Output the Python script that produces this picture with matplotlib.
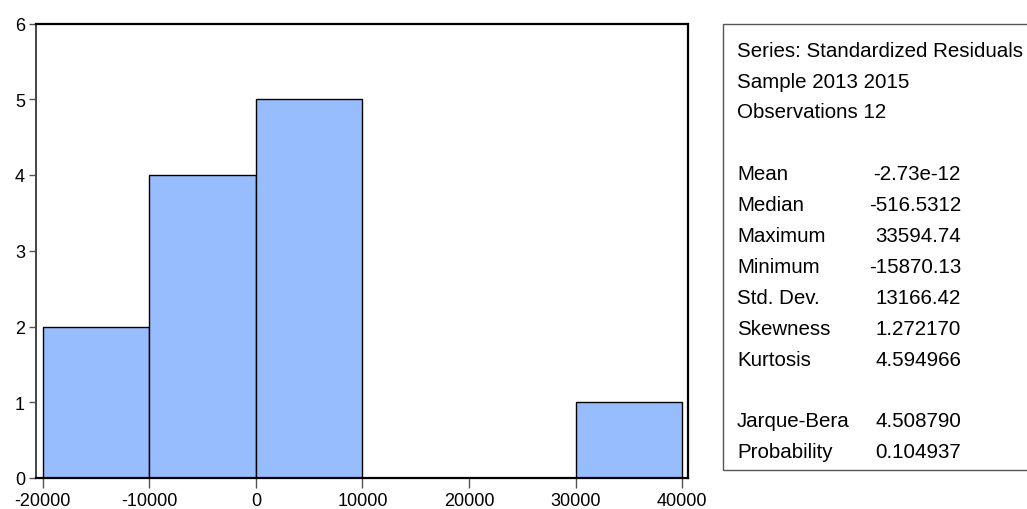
import numpy as np
import matplotlib.pyplot as plt
from matplotlib.patches import Rectangle

plt.rcParams['font.family'] = ['Liberation Sans', 'DejaVu Sans']

# histogram of residuals: bin edges and counts
bin_edges = [-20000, -10000, 0, 10000, 20000, 30000, 40000]
counts = [2, 4, 5, 0, 0, 1]

# summary statistics shown beside the histogram
header = ['Series: Standardized Residuals', 'Sample 2013 2015', 'Observations 12']
stat_names = ['Mean', 'Median', 'Maximum', 'Minimum', 'Std. Dev.', 'Skewness', 'Kurtosis']
stat_values = ['-2.73e-12', '-516.5312', '33594.74', '-15870.13', '13166.42', '1.272170', '4.594966']
test_names = ['Jarque-Bera', 'Probability']
test_values = ['4.508790', '0.104937']

W, H = 1027, 510
fig = plt.figure(figsize=(W / 100, H / 100), dpi=100)
ax = fig.add_axes([36 / W, 1 - 479 / H, (688 - 36) / W, (479 - 24.5) / H])

left = np.array(bin_edges[:-1])
width = np.diff(bin_edges)
for x0, w, c in zip(left, width, counts):
    if c > 0:
        ax.bar(x0, c, width=w, align='edge', color='#98BDFE', edgecolor='black', linewidth=1.0)

ax.set_xlim(-20620, 40540)
ax.set_ylim(0, 6)
ax.set_xticks(bin_edges)
ax.set_xticklabels([str(v) for v in bin_edges])
ax.set_yticks(range(0, 7))
ax.tick_params(axis='x', length=7, width=1, color='#555555', pad=3, labelsize=13)
ax.tick_params(axis='y', length=5, width=1, color='#555555', pad=3, labelsize=13)
for s in ['top', 'bottom', 'right']:
    ax.spines[s].set_color('black')
    ax.spines[s].set_linewidth(1.6)
ax.spines['left'].set_color('#444444')
ax.spines['left'].set_linewidth(1.4)

# statistics box
fig.patches.append(Rectangle((723 / W, 1 - 470.7 / H), 1.0, (470.7 - 24.5) / H,
                             transform=fig.transFigure, fill=False,
                             edgecolor='#555555', linewidth=1.0))

fs = 14.8
x_lab = 737 / W
x_val = 961 / W
y0, dy = 56.7, 30.9

rows = [(t, '') for t in header] + [('', '')]
rows += list(zip(stat_names, stat_values)) + [('', '')]
rows += list(zip(test_names, test_values))
for i, (lab, val) in enumerate(rows):
    y = 1 - (y0 + i * dy) / H
    if lab:
        fig.text(x_lab, y, lab, fontsize=fs, ha='left', va='baseline')
    if val:
        fig.text(x_val, y, val, fontsize=fs, ha='right', va='baseline')

fig.savefig('out.png', dpi=100)
